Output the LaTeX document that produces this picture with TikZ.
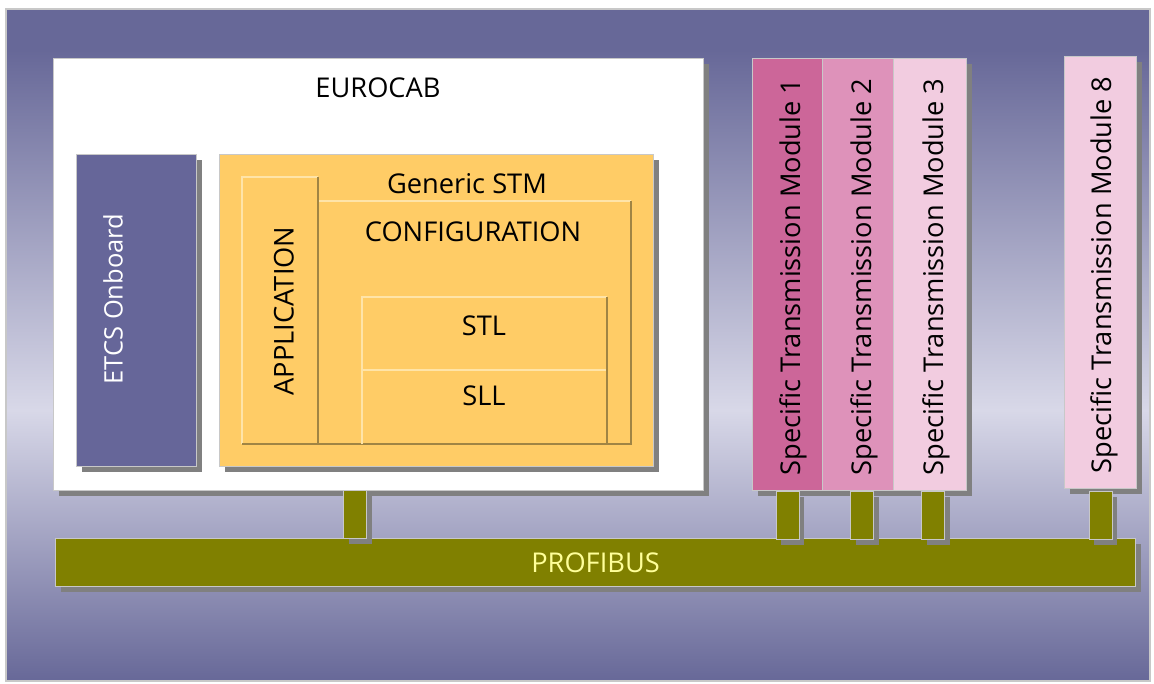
\documentclass[tikz,border=0pt]{standalone}
\usepackage{fontspec}
\setmainfont{Open Sans}
\usepackage{xcolor}
\usepackage{tikz}
\usetikzlibrary{positioning, backgrounds}
\definecolor{panel}{HTML}{676898}
\definecolor{panellight}{HTML}{D8D8E8}
\definecolor{onboard}{HTML}{666699}
\definecolor{stm}{HTML}{FFCC66}
\definecolor{stmlite}{HTML}{FFE4A8}
\definecolor{stmdark}{HTML}{A08444}
\definecolor{bus}{HTML}{808000}
\definecolor{bustext}{HTML}{FFFF99}
\definecolor{rimgray}{HTML}{C8C8C8}
\definecolor{shadowgray}{HTML}{808080}
\definecolor{modone}{HTML}{CC6699}
\definecolor{modtwo}{HTML}{DE92BA}
\definecolor{modthree}{HTML}{F2CCE0}
\tikzset{
shadowed/.style = { preaction = { fill = shadowgray, transform canvas = { shift = {(1mm, -1mm)} } } },
box/.style = { rectangle, draw = rimgray, line width = 0.6pt, inner sep = 0pt, anchor = north west },
layer/.style = { rectangle, draw = none, fill = none, inner sep = 0pt, anchor = north west },
tap/.style = { rectangle, draw = rimgray, line width = 0.6pt, fill = bus, inner sep = 0pt, minimum width = 4.6mm, minimum height = 9.6mm, shadowed },
caption/.style = { inner sep = 0pt, font = \fontsize{15.5}{18}\selectfont, text = black },
upright/.style = { caption, rotate = 90 },
lite edge/.style = { draw = stmlite, line width = 1.3pt },
dark edge/.style = { draw = stmdark, line width = 1.3pt },
}

\begin{document}
\begin{tikzpicture}[x = 0.2mm, y = -0.2mm]
      \useasboundingbox (0, 0) rectangle (1154, 683);
      \fill[panel] (6, 9) rectangle (1150, 50);
      \shade[top color = panel, bottom color = panellight] (6, 50) rectangle (1150, 410);
      \shade[top color = panellight, bottom color = panel] (6, 410) rectangle (1150, 681);
      \draw[rimgray, line width = 0.6pt] (6, 9) rectangle (1150, 681);

      \node[box, shadowed, fill = white, minimum width = 130mm, minimum height = 86.4mm] (cab) at (53, 58) {};
      \node[caption] (cab label) at (378, 88) {EUROCAB};

      \node[box, shadowed, fill = onboard, minimum width = 24mm, minimum height = 62.4mm] (etcs) at (76, 154) {};
      \node[upright, text = white, font = \fontsize{14.5}{17}\selectfont] (etcs label) at (113, 299) {ETCS Onboard};

      \node[box, shadowed, fill = stm, minimum width = 86.8mm, minimum height = 62.4mm] (generic) at (219, 154) {};
      \node[caption] (generic label) at (467, 184) {Generic STM};

      \node[layer, minimum width = 15mm, minimum height = 53.2mm] (app) at (242, 177) {};
      \draw[lite edge] (app.south west) |- (app.north east);
      \draw[dark edge] (app.north east) |- (app.south west);
      \node[upright] (app label) at (284, 311) {APPLICATION};

      \node[layer, minimum width = 62.2mm, minimum height = 48.4mm] (config) at (319, 201) {};
      \draw[lite edge] (config.north west) -- (config.north east);
      \draw[dark edge] (config.north east) |- (config.south west);
      \node[caption] (config label) at (473, 232) {CONFIGURATION};

      \node[layer, minimum width = 48.8mm, minimum height = 14.4mm] (stl) at (362, 297) {};
      \node[layer, minimum width = 48.8mm, minimum height = 14.8mm, below = 0pt of stl] (sll) {};
      \draw[lite edge] (sll.south west) |- (stl.north east);
      \draw[lite edge] (sll.north west) -- (sll.north east);
      \draw[dark edge] (stl.north east) -- (sll.south east);
      \node[caption] (stl label) at (484, 326) {STL};
      \node[caption] (sll label) at (484, 396) {SLL};

      \node[box, shadowed, fill = modone, minimum width = 14mm, minimum height = 86.4mm] (stm1) at (752, 58) {};
      \node[box, shadowed, fill = modtwo, minimum width = 14.2mm, minimum height = 86.4mm] (stm2) at (822, 58) {};
      \node[box, shadowed, fill = modthree, minimum width = 14.6mm, minimum height = 86.4mm] (stm3) at (893, 58) {};
      \node[box, shadowed, fill = modthree, minimum width = 14.4mm, minimum height = 86.4mm] (stm8) at (1064, 56) {};
      \node[upright] (stm1 label) at (793, 277) {Specific Transmission Module 1};
      \node[upright] (stm2 label) at (864, 277) {Specific Transmission Module 2};
      \node[upright] (stm3 label) at (936, 277) {Specific Transmission Module 3};
      \node[upright] (stm8 label) at (1104, 275) {Specific Transmission Module 8};

      \node[box, shadowed, fill = bus, minimum width = 216mm, minimum height = 9.6mm, font = \fontsize{15.5}{18}\selectfont, text = bustext] (profibus) at (55, 538) {PROFIBUS};

      \node[tap, anchor = north west] (cab tap) at (343, 490) {};
      \node[tap, below = 0pt of stm1] (stm1 tap) {};
      \node[tap, below = 0pt of stm2, xshift = 0.8mm] (stm2 tap) {};
      \node[tap, below = 0pt of stm3, xshift = 0.6mm] (stm3 tap) {};
      \node[tap, below = 0pt of stm8, yshift = -0.4mm] (stm8 tap) {};
    \end{tikzpicture}
\end{document}
